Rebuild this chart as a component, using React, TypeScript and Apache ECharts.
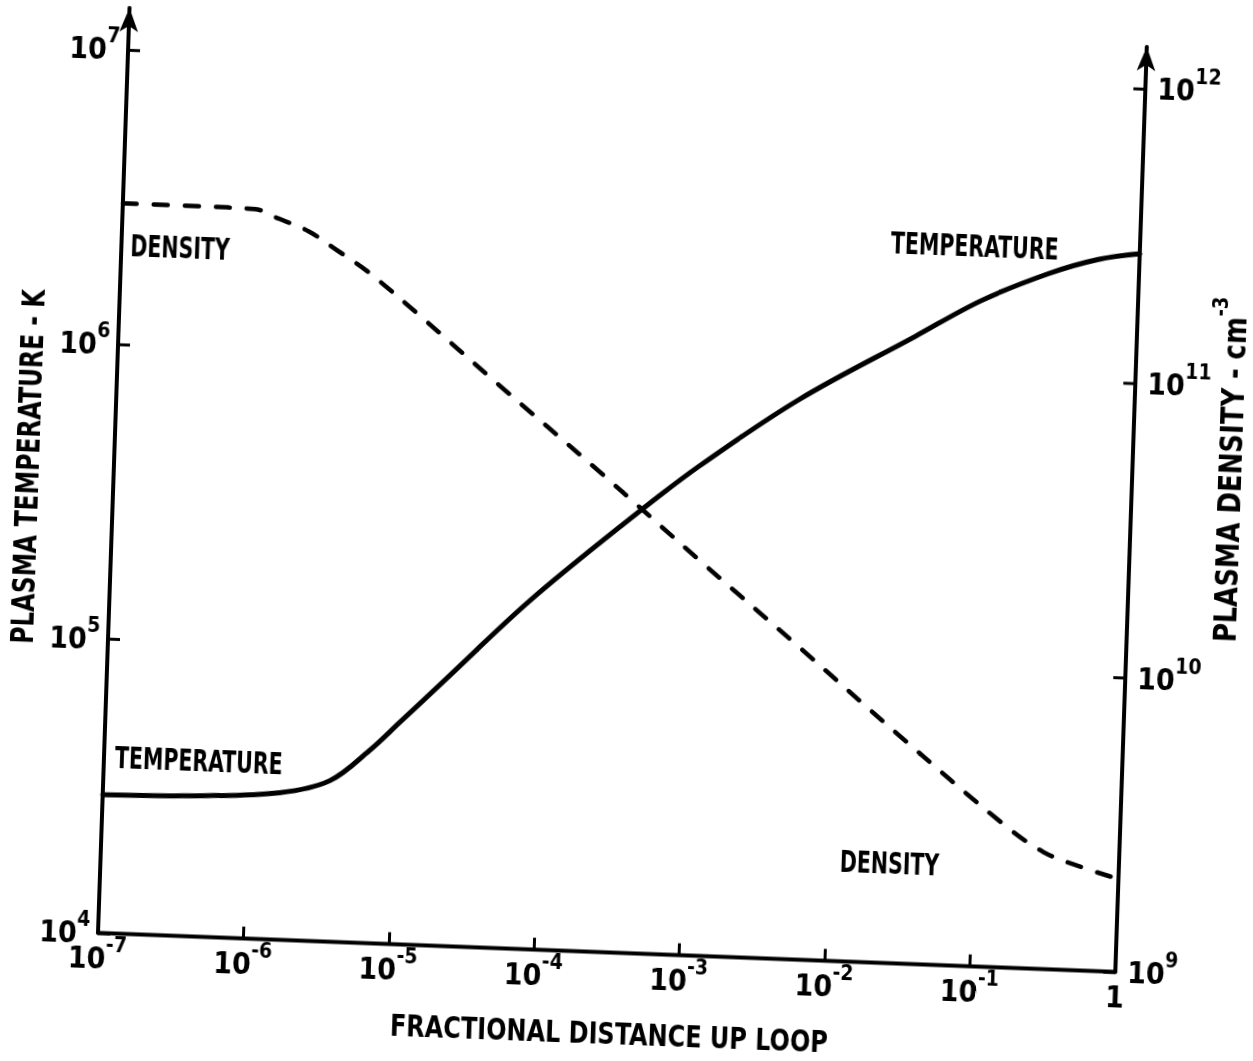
import React, { useEffect, useRef } from "react";
import * as echarts from "echarts";

// Temperature profile along the loop: fractional distance s/L and T (K)
const temperatureS = [1e-7, 4e-7, 1.64e-6, 3.6e-6, 6.65e-6, 1.05e-5, 2.26e-5, 7.7e-5, 3.54e-4, 1.04e-3, 4.9e-3, 0.03, 0.0836, 0.237, 0.52, 1];
const temperatureK = [2.95e4, 3.0e4, 3.16e4, 3.52e4, 4.51e4, 5.65e4, 8.28e4, 1.52e5, 2.95e5, 4.57e5, 7.94e5, 1.35e6, 1.82e6, 2.29e6, 2.6e6, 2.75e6];

// Density profile along the loop: fractional distance s/L and n (cm^-3)
const densityS = [1e-7, 3.2e-7, 8.1e-7, 1.18e-6, 1.91e-6, 3.1e-6, 5.0e-6, 1.14e-5, 4.2e-5, 2.16e-4, 1.1e-3, 5.65e-3, 0.0289, 0.149, 0.3, 0.6, 1];
const densityCm3 = [3.01e11, 3.01e11, 2.99e11, 2.8e11, 2.56e11, 2.21e11, 1.9e11, 1.38e11, 8.18e10, 4.28e10, 2.21e10, 1.15e10, 5.94e9, 3.13e9, 2.5e9, 2.22e9, 2.07e9];

// Axis ranges (powers of ten)
const xRange = [1e-7, 1];
const tempRange = [1e4, 1e7];
const densRange = [1e9, 1e12];

const xTitle = "FRACTIONAL DISTANCE UP LOOP";
const tempTitle = "PLASMA TEMPERATURE - K";
const densTitle = "{t|PLASMA DENSITY - cm}{s|-3}";

// Curve labels placed inside the plot
const curveLabels = [
  { text: "DENSITY", x: 147, y: 284 },
  { text: "TEMPERATURE", x: 907, y: 252 },
  { text: "TEMPERATURE", x: 149, y: 796 },
  { text: "DENSITY", x: 877, y: 873 },
];

const FONT = '"DejaVu Sans Condensed", "DejaVu Sans", sans-serif';
const INK = "#000";

const tickRich = {
  base: { fontSize: 30, lineHeight: 30, fontWeight: "bold", fontFamily: FONT, color: INK, verticalAlign: "bottom" },
  sup: { fontSize: 21, lineHeight: 21, fontWeight: "bold", fontFamily: FONT, color: INK, verticalAlign: "bottom", padding: [0, 0, 18, 0] },
  one: { fontSize: 30, lineHeight: 30, fontWeight: "bold", fontFamily: FONT, color: INK, verticalAlign: "bottom", padding: [9, 0, 0, 0] },
};

function powerLabel(v: number): string {
  const e = Math.round(Math.log10(v));
  if (e === 0) return "{one|1}";
  return "{base|10}{sup|" + e + "}";
}

const axisInk = { color: INK, width: 4 };
const tickStyle = { show: true, inside: true, length: 12, lineStyle: { color: INK, width: 3 } };

const letter = { fontWeight: "bold", fontFamily: FONT, fill: INK };

export default function App() {
  const ref = useRef<HTMLDivElement>(null);

  useEffect(() => {
    if (!ref.current) return;
    const chart = echarts.init(ref.current, undefined, { renderer: "svg" });
    chart.setOption({
      animation: false,
      backgroundColor: "#fff",
      grid: [
        { left: 138, top: 88, width: 1018, height: 885 },
        { left: 138, top: 46, width: 1018, height: 927 },
      ],
      xAxis: [
        {
          type: "log",
          gridIndex: 0,
          logBase: 10,
          min: xRange[0],
          max: xRange[1],
          splitNumber: 7,
          axisLine: { show: true, lineStyle: axisInk },
          axisTick: tickStyle,
          minorTick: { show: false },
          splitLine: { show: false },
          axisLabel: { margin: 10, formatter: powerLabel, rich: tickRich },
        },
        { type: "value", gridIndex: 1, show: false, min: 0, max: 1 },
      ],
      yAxis: [
        {
          type: "log",
          gridIndex: 0,
          position: "left",
          logBase: 10,
          min: tempRange[0],
          max: tempRange[1],
          splitNumber: 3,
          axisLine: { show: false },
          axisTick: tickStyle,
          minorTick: { show: false },
          splitLine: { show: false },
          axisLabel: { margin: 8, formatter: powerLabel, rich: tickRich },
        },
        {
          type: "log",
          gridIndex: 0,
          position: "right",
          logBase: 10,
          min: densRange[0],
          max: densRange[1],
          splitNumber: 3,
          axisLine: { show: false },
          axisTick: tickStyle,
          minorTick: { show: false },
          splitLine: { show: false },
          axisLabel: { margin: 12, formatter: powerLabel, rich: tickRich },
        },
        {
          type: "value",
          gridIndex: 1,
          position: "left",
          min: 0,
          max: 1,
          axisLine: { show: true, symbol: ["none", "arrow"], symbolSize: [14, 24], lineStyle: axisInk },
          axisTick: { show: false },
          axisLabel: { show: false },
          splitLine: { show: false },
        },
        {
          type: "value",
          gridIndex: 1,
          position: "right",
          min: 0,
          max: 1,
          axisLine: { show: true, symbol: ["none", "arrow"], symbolSize: [14, 24], lineStyle: axisInk },
          axisTick: { show: false },
          axisLabel: { show: false },
          splitLine: { show: false },
        },
      ],
      graphic: [
        // axis titles
        {
          type: "text",
          x: 652,
          y: 1054,
          scaleX: 0.86,
          style: { ...letter, text: xTitle, fontSize: 31, align: "center", verticalAlign: "middle" },
        },
        {
          type: "text",
          x: 52,
          y: 509,
          rotation: Math.PI / 2,
          scaleX: 0.82,
          style: { ...letter, text: tempTitle, fontSize: 32, align: "center", verticalAlign: "middle" },
        },
        {
          type: "text",
          x: 1249,
          y: 466,
          rotation: Math.PI / 2,
          scaleX: 0.9,
          style: {
            ...letter,
            text: densTitle,
            fontSize: 32,
            align: "center",
            verticalAlign: "middle",
            rich: {
              t: { fontSize: 32, fontWeight: "bold", fontFamily: FONT, fill: INK, verticalAlign: "bottom" },
              s: { fontSize: 22, fontWeight: "bold", fontFamily: FONT, fill: INK, verticalAlign: "bottom", padding: [0, 0, 20, 0] },
            },
          },
        },
        // curve names
        ...curveLabels.map((c) => ({
          type: "text",
          x: c.x,
          y: c.y,
          scaleX: 0.76,
          style: { ...letter, text: c.text, fontSize: 30, align: "left", verticalAlign: "middle" },
        })),
      ],
      series: [
        {
          type: "line",
          name: "Temperature",
          xAxisIndex: 0,
          yAxisIndex: 0,
          data: temperatureS.map((s, i) => [s, temperatureK[i]]),
          smooth: 0.35,
          symbol: "none",
          lineStyle: { color: INK, width: 5, cap: "round", join: "round" },
          z: 3,
        },
        {
          type: "line",
          name: "Density",
          xAxisIndex: 0,
          yAxisIndex: 1,
          data: densityS.map((s, i) => [s, densityCm3[i]]),
          smooth: 0.35,
          symbol: "none",
          lineStyle: { color: INK, width: 4.5, type: [14, 17], cap: "round" },
          z: 3,
        },
      ],
    });
    return () => chart.dispose();
  }, []);

  return (
    <div
      ref={ref}
      style={{
        position: "fixed",
        left: -40,
        top: -40,
        width: 1293,
        height: 1101,
        background: "#fff",
        transformOrigin: "138px 973px",
        transform: "matrix(0.9993, 0.0383, -0.0340, 0.9980, 0, 0)",
      }}
    />
  );
}
